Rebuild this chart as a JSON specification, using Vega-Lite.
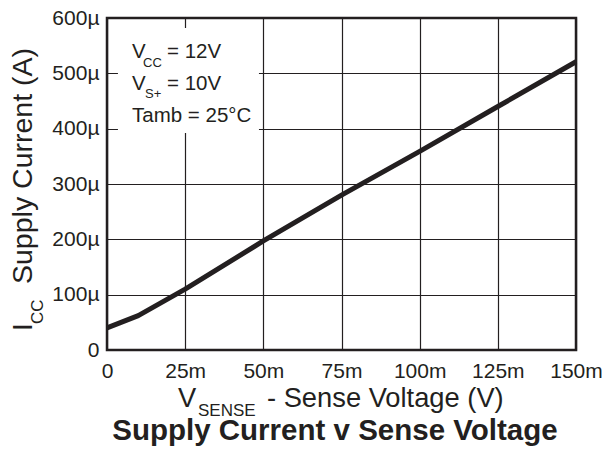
{
  "$schema": "https://vega.github.io/schema/vega-lite/v6.json",
  "width": 469,
  "height": 332,
  "autosize": {"type": "none"},
  "padding": {"left": 107, "top": 18, "right": 29, "bottom": 100},
  "background": "white",
  "config": {
    "view": {"stroke": "#231f20", "strokeWidth": 2.5},
    "font": "Liberation Sans",
    "text": {"font": "Liberation Sans", "color": "#231f20", "align": "left", "baseline": "alphabetic"}
  },
  "encoding": {
    "x": {"field": "vsense_mV", "type": "quantitative",
      "scale": {"domain": [0, 150], "nice": false, "zero": false},
      "axis": {"values": [0, 25, 50, 75, 100, 125, 150], "format": "d",
        "labelExpr": "datum.value == 0 ? '0' : datum.label + 'm'",
        "domain": false, "ticks": false, "grid": true, "gridColor": "#231f20", "gridWidth": 1.2, "gridOpacity": 1,
        "labelFont": "Liberation Sans", "labelFontSize": 21, "labelColor": "#231f20", "labelPadding": 10,
        "labelOverlap": false, "labelFlush": false, "title": null}},
    "y": {"field": "icc_uA", "type": "quantitative",
      "scale": {"domain": [0, 600], "nice": false, "zero": false},
      "axis": {"values": [0, 100, 200, 300, 400, 500, 600], "format": "d",
        "labelExpr": "datum.value == 0 ? '0' : datum.label + 'µ'",
        "domain": false, "ticks": false, "grid": true, "gridColor": "#231f20", "gridWidth": 1.2, "gridOpacity": 1,
        "labelFont": "Liberation Sans", "labelFontSize": 21, "labelColor": "#231f20", "labelPadding": 8,
        "labelOverlap": false, "title": null}}
  },
  "layer": [
    {
      "data": {"values": [{"x1": 3.5, "x2": 48.6, "y1": 392, "y2": 582}]},
      "mark": {"type": "rect", "fill": "white", "stroke": null},
      "encoding": {
        "x": {"field": "x1", "type": "quantitative"},
        "x2": {"field": "x2"},
        "y": {"field": "y1", "type": "quantitative"},
        "y2": {"field": "y2"}
      }
    },
    {
      "data": {"values": [
        {"vsense_mV": 0, "icc_uA": 40},
        {"vsense_mV": 10, "icc_uA": 62},
        {"vsense_mV": 25, "icc_uA": 110},
        {"vsense_mV": 50, "icc_uA": 197},
        {"vsense_mV": 75, "icc_uA": 280},
        {"vsense_mV": 100, "icc_uA": 359},
        {"vsense_mV": 125, "icc_uA": 440},
        {"vsense_mV": 150, "icc_uA": 521}
      ]},
      "mark": {"type": "line", "color": "#231f20", "strokeWidth": 5, "strokeJoin": "round"}
    },
    {
      "data": {"values": [
        {"vsense_mV": 8.0, "icc_uA": 527.7, "t": "V"},
        {"vsense_mV": 19.19, "icc_uA": 527.7, "t": "= 12V"},
        {"vsense_mV": 8.0, "icc_uA": 469.9, "t": "V"},
        {"vsense_mV": 19.19, "icc_uA": 469.9, "t": "= 10V"},
        {"vsense_mV": 8.0, "icc_uA": 412.0, "t": "Tamb = 25°C"}
      ]},
      "mark": {"type": "text", "fontSize": 20.5},
      "encoding": {"text": {"field": "t"}}
    },
    {
      "data": {"values": [
        {"vsense_mV": 11.51, "icc_uA": 511.4, "t": "CC"},
        {"vsense_mV": 12.15, "icc_uA": 455.4, "t": "S+"}
      ]},
      "mark": {"type": "text", "fontSize": 13},
      "encoding": {"text": {"field": "t"}}
    },
    {
      "data": {"values": [
        {"vsense_mV": 22.71, "icc_uA": -103.0, "t": "V"},
        {"vsense_mV": 51.17, "icc_uA": -103.0, "t": "- Sense Voltage (V)"}
      ]},
      "mark": {"type": "text", "fontSize": 27.3},
      "encoding": {"text": {"field": "t"}}
    },
    {
      "data": {"values": [
        {"vsense_mV": 29.1, "icc_uA": -120.0, "t": "SENSE"}
      ]},
      "mark": {"type": "text", "fontSize": 17},
      "encoding": {"text": {"field": "t"}}
    },
    {
      "data": {"values": [
        {"vsense_mV": 72.9, "icc_uA": -163.5, "t": "Supply Current v Sense Voltage"}
      ]},
      "mark": {"type": "text", "fontSize": 29.5, "fontWeight": "bold", "align": "center"},
      "encoding": {"text": {"field": "t"}}
    },
    {
      "data": {"values": [
        {"vsense_mV": -23.99, "icc_uA": 34.3, "t": "I"},
        {"vsense_mV": -23.99, "icc_uA": 119.3, "t": "Supply Current (A)"}
      ]},
      "mark": {"type": "text", "fontSize": 28.5, "angle": 270},
      "encoding": {"text": {"field": "t"}}
    },
    {
      "data": {"values": [
        {"vsense_mV": -20.47, "icc_uA": 47.0, "t": "CC"}
      ]},
      "mark": {"type": "text", "fontSize": 17, "angle": 270},
      "encoding": {"text": {"field": "t"}}
    }
  ]
}
